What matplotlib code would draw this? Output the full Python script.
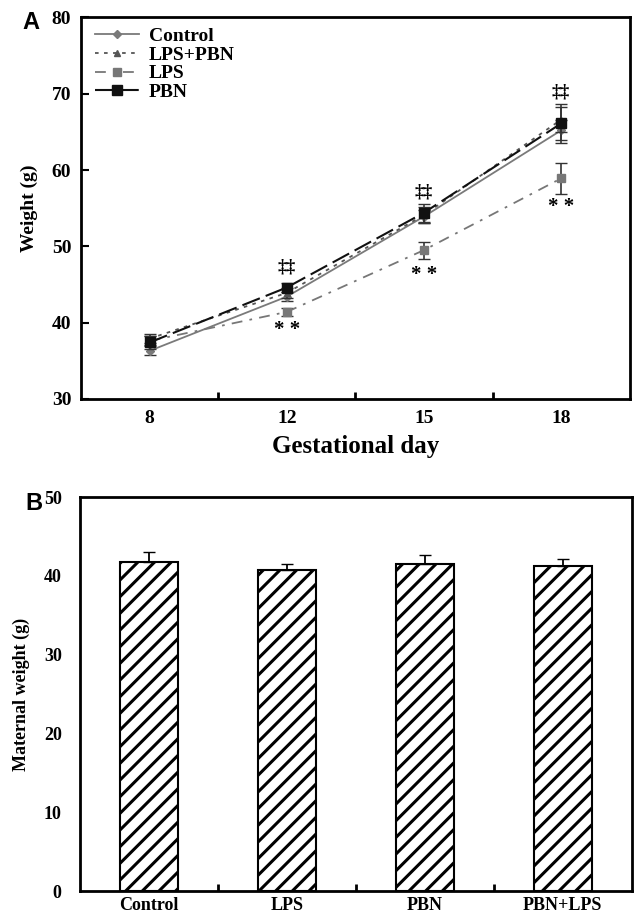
import matplotlib
matplotlib.use("Agg")
import matplotlib.pyplot as plt
from matplotlib.ticker import FixedLocator

# --- data ---
days = ["8", "12", "15", "18"]

control = [36.3, 43.4, 53.9, 65.2]
control_err = [0.6, 0.6, 0.9, 1.3]
lps_pbn = [37.9, 43.9, 54.1, 66.6]
lps_pbn_err = [0.6, 0.7, 1.0, 1.6]
lps = [37.6, 41.4, 49.5, 58.9]
lps_err = [0.6, 0.5, 1.1, 2.0]
pbn = [37.4, 44.6, 54.4, 66.1]
pbn_err = [0.8, 0.6, 1.2, 2.6]

dagger_y = [47.3, 57.1, 70.2]   # "‡‡" marks at days 12, 15, 18
star_y = [39.0, 46.3, 55.2]     # "**" marks under LPS

groups = ["Control", "LPS", "PBN", "PBN+LPS"]
maternal = [41.8, 40.8, 41.5, 41.3]
maternal_err = [1.2, 0.7, 1.2, 0.8]

plt.rcParams["font.family"] = ["Liberation Serif", "DejaVu Serif"]
plt.rcParams["font.weight"] = "bold"
plt.rcParams["hatch.linewidth"] = 2.2

fig = plt.figure(figsize=(6.38, 9.17), dpi=100)

# --- panel A: weight over gestation ---
ax1 = fig.add_axes([0.127, 0.565, 0.86, 0.416])
x = list(range(len(days)))

series = [
    ("Control", control, control_err, dict(color="#7a7a7a", ls="-", marker="D", ms=4, lw=1.3)),
    ("LPS+PBN", lps_pbn, lps_pbn_err, dict(color="#555555", ls=(0, (2, 3)), marker="^", ms=5, lw=1.3)),
    ("LPS", lps, lps_err, dict(color="#777777", ls=(0, (6, 4, 1.5, 4)), marker="s", ms=6, lw=1.3)),
    ("PBN", pbn, pbn_err, dict(color="#111111", ls=(0, (9, 3)), marker="s", ms=6.5, lw=1.5)),
]
for name, vals, err, st in series:
    ax1.errorbar(x, vals, yerr=err, fmt="none", capsize=4, elinewidth=1.2, ecolor="#333333")
    ax1.plot(x, vals, label=name, **st)

for i, yv in zip([1, 2, 3], dagger_y):
    ax1.text(i, yv, "‡‡", ha="center", va="center", fontsize=13, fontweight="bold")
for i, yv in zip([1, 2, 3], star_y):
    ax1.text(i, yv, "* *", ha="center", va="center", fontsize=15, fontweight="bold")

ax1.set_xlim(-0.5, 3.5)
ax1.set_ylim(30, 80)
ax1.set_yticks([30, 40, 50, 60, 70, 80])
ax1.set_xticks(x)
ax1.set_xticklabels(days)
ax1.xaxis.set_minor_locator(FixedLocator([0.5, 1.5, 2.5]))
ax1.tick_params(axis="x", which="major", length=0, pad=8, labelsize=14)
ax1.tick_params(axis="x", which="minor", direction="in", length=5, width=2)
ax1.tick_params(axis="y", direction="in", length=6, width=1.5, labelsize=14, pad=7)
ax1.set_xlabel("Gestational day", fontsize=18, fontweight="bold", labelpad=6)
ax1.set_ylabel("Weight (g)", fontsize=14, fontweight="bold", labelpad=10)
for sp in ax1.spines.values():
    sp.set_linewidth(2)

leg = ax1.legend(loc="upper left", bbox_to_anchor=(0.0, 1.01), frameon=False,
                 handlelength=2.3, fontsize=14, labelspacing=0.06,
                 handletextpad=0.5, borderaxespad=0.3, numpoints=1)
for t in leg.get_texts():
    t.set_fontweight("bold")

fig.text(0.035, 0.975, "A", fontsize=17, family="Liberation Sans", va="center")

# --- panel B: maternal weight ---
ax2 = fig.add_axes([0.125, 0.028, 0.865, 0.430])
xb = list(range(len(groups)))
ax2.bar(xb, maternal, width=0.42, color="white", edgecolor="black", lw=1.5, hatch="//")
ax2.errorbar(xb, maternal, yerr=[[0] * len(groups), maternal_err], fmt="none",
             ecolor="black", capsize=4, elinewidth=1.3)
ax2.set_xlim(-0.5, 3.5)
ax2.set_ylim(0, 50)
ax2.set_yticks([0, 10, 20, 30, 40, 50])
ax2.set_xticks(xb)
ax2.set_xticklabels(groups)
ax2.xaxis.set_minor_locator(FixedLocator([0.5, 1.5, 2.5]))
ax2.tick_params(axis="x", which="major", length=0, pad=4, labelsize=13)
ax2.tick_params(axis="x", which="minor", direction="in", length=5, width=2)
ax2.tick_params(axis="y", direction="in", length=0, labelsize=13, pad=13)
ax2.set_ylabel("Maternal weight (g)", fontsize=13, fontweight="bold", labelpad=10)
for sp in ax2.spines.values():
    sp.set_linewidth(2)

fig.text(0.04, 0.451, "B", fontsize=17, family="Liberation Sans", va="center")

fig.savefig("out.png", dpi=100)
